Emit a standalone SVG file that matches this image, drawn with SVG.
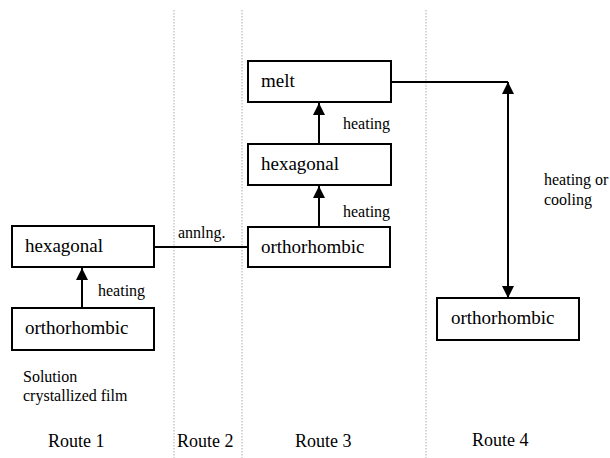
<svg xmlns="http://www.w3.org/2000/svg" width="610" height="458" viewBox="0 0 610 458">
<defs>
<style>
.box{fill:#fff;stroke:#000;stroke-width:2}
.ln{stroke:#000;stroke-width:2;fill:none}
.div{stroke:#bbb;stroke-width:1.2;stroke-dasharray:1.5 1.5}
</style>
<marker id="ah" viewBox="0 0 12 12" refX="12" refY="6" markerWidth="12" markerHeight="12" markerUnits="userSpaceOnUse" orient="auto-start-reverse">
<path d="M0,0 L12,6 L0,12 Z" fill="#000"/>
</marker>
</defs>
<rect width="610" height="458" fill="#fff"/>
<g id="dividers">
<line class="div" x1="174" y1="10" x2="174" y2="458"/>
<line class="div" x1="242" y1="10" x2="242" y2="458"/>
<line class="div" x1="426" y1="10" x2="426" y2="458"/>
</g>
<g font-family="Liberation Serif, DejaVu Serif, serif" fill="#000">
<g id="connectors" font-size="16">
<line class="ln" x1="82" y1="308" x2="82" y2="268" marker-end="url(#ah)"/>
<line class="ln" x1="154" y1="247" x2="248" y2="247"/>
<line class="ln" x1="319" y1="227" x2="319" y2="186" marker-end="url(#ah)"/>
<line class="ln" x1="319" y1="144" x2="319" y2="103" marker-end="url(#ah)"/>
<polyline class="ln" points="391,82 508,82"/>
<line class="ln" x1="508" y1="82" x2="508" y2="298" marker-start="url(#ah)" marker-end="url(#ah)"/>
<text x="98" y="296">heating</text>
<text x="178" y="238">annlng.</text>
<text x="343" y="217">heating</text>
<text x="343" y="129">heating</text>
<text x="544" y="185">heating or</text>
<text x="544" y="205">cooling</text>
</g>
<g font-size="19">
<g id="r1-hexagonal"><rect class="box" x="12" y="226" width="142" height="41"/><text x="25" y="252">hexagonal</text></g>
<g id="r1-orthorhombic"><rect class="box" x="12" y="308" width="142" height="42"/><text x="25" y="334">orthorhombic</text></g>
<g id="r3-orthorhombic"><rect class="box" x="248" y="227" width="142" height="40"/><text x="261" y="253">orthorhombic</text></g>
<g id="r3-hexagonal"><rect class="box" x="248" y="144" width="143" height="41"/><text x="261" y="170">hexagonal</text></g>
<g id="melt"><rect class="box" x="248" y="61" width="143" height="41"/><text x="261" y="87">melt</text></g>
<g id="r4-orthorhombic"><rect class="box" x="437" y="298" width="142" height="42"/><text x="451" y="324">orthorhombic</text></g>
</g>
<g id="labels">
<text font-size="16" x="23" y="382">Solution</text>
<text font-size="16" x="23" y="401">crystallized film</text>
<g font-size="18">
<text x="48" y="447">Route 1</text>
<text x="177" y="447">Route 2</text>
<text x="295" y="447">Route 3</text>
<text x="472" y="446">Route 4</text>
</g>
</g>
</g>
</svg>
